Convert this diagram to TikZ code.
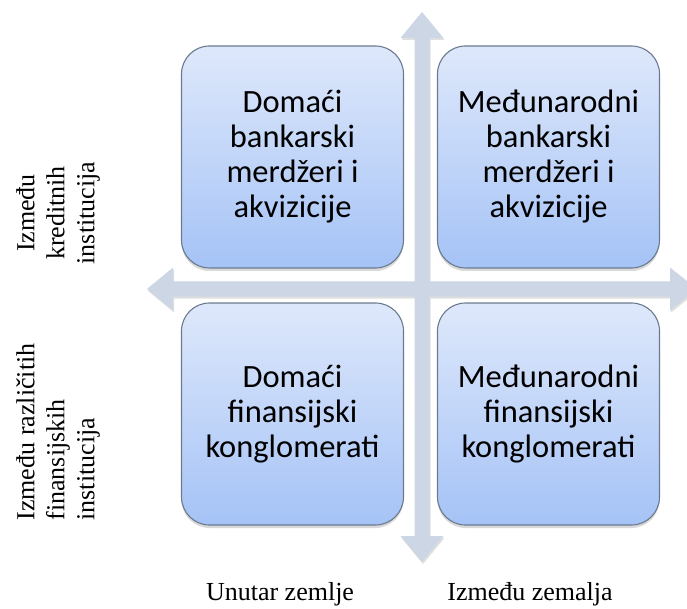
\documentclass[tikz,border=0pt]{standalone}
\usepackage{fontspec}
\setmainfont{Liberation Serif}
\newfontfamily\boxfont{Carlito}
\usetikzlibrary{shadows}
\definecolor{boxtop}{HTML}{DEE8FB}
\definecolor{boxbot}{HTML}{A5C3F6}
\definecolor{boxedge}{HTML}{6B7A8F}
\definecolor{arrowcol}{HTML}{CDD6E4}
\begin{document}
\begin{tikzpicture}[x=1pt,y=-1pt,
  quad/.style={rounded corners=28pt, draw=boxedge, line width=1.1pt,
    top color=boxtop, bottom color=boxbot,
    minimum width=222pt, minimum height=222pt, align=center,
    font=\boxfont\fontsize{32.5}{35}\selectfont, text=black, inner sep=0pt,
    drop shadow={opacity=0.3, shadow xshift=0pt, shadow yshift=-3pt}},
  lab/.style={font=\fontsize{26}{30}\selectfont, align=center, inner sep=0pt}]
\useasboundingbox (0,0) rectangle (687,609);
% cross of double arrows
\fill[arrowcol, drop shadow={opacity=0.25, shadow xshift=1pt, shadow yshift=-2pt}]
  (147,289) -- (173,267.5) -- (173,281.5) -- (414.5,281.5) -- (414.5,38)
  -- (400.5,38) -- (422,12) -- (443.5,38) -- (429.5,38) -- (429.5,281.5)
  -- (670,281.5) -- (670,267.5) -- (697,289) -- (670,310.5) -- (670,296.5)
  -- (429.5,296.5) -- (429.5,536) -- (443.5,536) -- (422,562) -- (400.5,536)
  -- (414.5,536) -- (414.5,296.5) -- (173,296.5) -- (173,310.5) -- cycle;
% boxes
\node[quad] (dba) at (292.5,157) {Domaći\\bankarski\\merdžeri i\\akvizicije};
\node[quad] (mba) at (548.5,157) {Međunarodni\\bankarski\\merdžeri i\\akvizicije};
\node[quad] (dfk) at (292.5,414) {Domaći\\finansijski\\konglomerati};
\node[quad] (mfk) at (548.5,414) {Međunarodni\\finansijski\\konglomerati};
% side labels
\node[lab, rotate=90] (lk) at (58,213) {Između\\kreditnih\\institucija};
\node[lab, rotate=90, align=left] (lf) at (58,432) {Između različitih\\finansijskih\\institucija};
% bottom labels
\node[lab, anchor=base] (ul) at (280,600) {Unutar zemlje};
\node[lab, anchor=base] (iz) at (530,600) {Između zemalja};
\end{tikzpicture}
\end{document}
